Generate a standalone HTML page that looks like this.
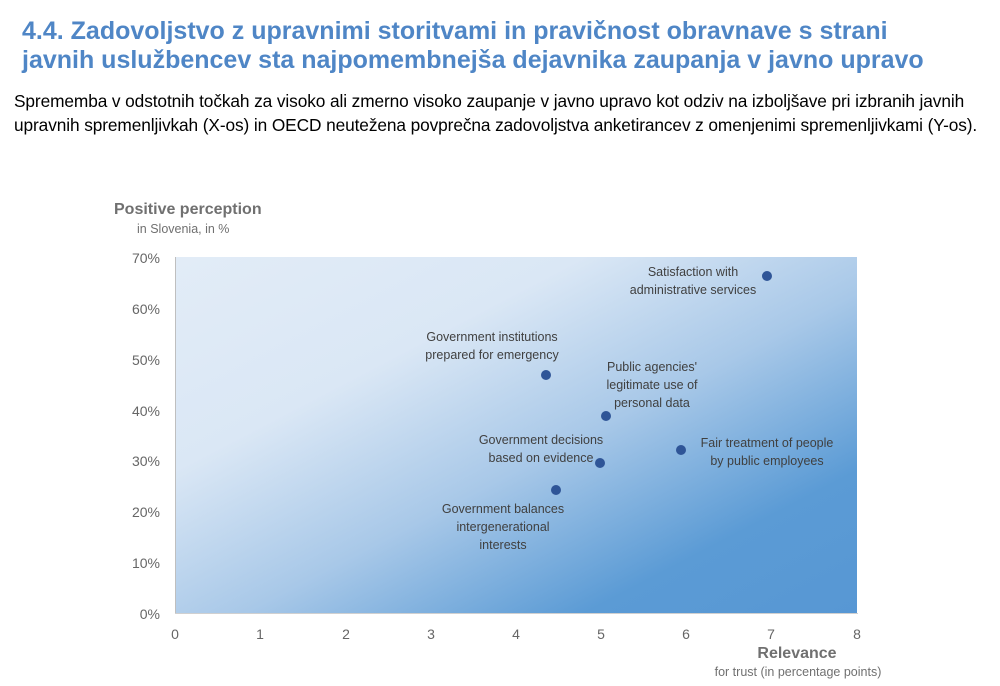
<!DOCTYPE html>
<html><head><meta charset="utf-8"><style>
body{margin:0;width:1000px;height:686px;background:#fff;font-family:"Liberation Sans",sans-serif;position:relative;overflow:hidden}
.t{position:absolute;left:22px;top:17px;color:#4f86c6;font-weight:bold;font-size:25px;line-height:29px;white-space:nowrap}
.s{position:absolute;left:14px;top:89px;color:#000;font-size:17.3px;line-height:24px;white-space:nowrap;letter-spacing:-0.1px}
</style></head><body>
<div class="t">4.4. Zadovoljstvo z upravnimi storitvami in pravičnost obravnave s strani<br>javnih uslužbencev sta najpomembnejša dejavnika zaupanja v javno upravo</div>
<div class="s">Sprememba v odstotnih točkah za visoko ali zmerno visoko zaupanje v javno upravo kot odziv na izboljšave pri izbranih javnih<br>upravnih spremenljivkah (X-os) in OECD neutežena povprečna zadovoljstva anketirancev z omenjenimi spremenljivkami (Y-os).</div>
<svg width="1000" height="686" style="position:absolute;left:0;top:0" font-family="Liberation Sans, sans-serif">
<defs><linearGradient id="g" x1="0" y1="0" x2="1" y2="1">
<stop offset="0" stop-color="#e2ecf7"/><stop offset="0.3" stop-color="#dae7f5"/><stop offset="0.55" stop-color="#a8c8e8"/><stop offset="0.8" stop-color="#5b9bd5"/><stop offset="1" stop-color="#5797d4"/></linearGradient></defs>
<rect x="175" y="257" width="682" height="356" fill="url(#g)"/>
<line x1="175.5" y1="257" x2="175.5" y2="614" stroke="#bfbfbf"/>
<line x1="175" y1="613.5" x2="858" y2="613.5" stroke="#d0d0d0"/>
<text x="114" y="214" font-size="16" font-weight="bold" fill="#707070">Positive perception</text>
<text x="137" y="233" font-size="12.5" fill="#707070">in Slovenia, in %</text>
<g font-size="14" fill="#666" text-anchor="end">
<text x="160" y="263">70%</text><text x="160" y="314">60%</text><text x="160" y="365">50%</text><text x="160" y="416">40%</text><text x="160" y="466">30%</text><text x="160" y="517">20%</text><text x="160" y="568">10%</text><text x="160" y="619">0%</text></g>
<g font-size="14" fill="#666" text-anchor="middle">
<text x="175" y="639">0</text><text x="260" y="639">1</text><text x="346" y="639">2</text><text x="431" y="639">3</text><text x="516" y="639">4</text><text x="601" y="639">5</text><text x="686" y="639">6</text><text x="771" y="639">7</text><text x="857" y="639">8</text></g>
<text x="797" y="658" font-size="16" font-weight="bold" fill="#707070" text-anchor="middle">Relevance</text>
<text x="798" y="676" font-size="12.5" fill="#707070" text-anchor="middle">for trust (in percentage points)</text>
<g fill="#2f5597"><circle cx="767" cy="276" r="5"/><circle cx="546" cy="375" r="5"/><circle cx="606" cy="416" r="5"/><circle cx="600" cy="463" r="5"/><circle cx="556" cy="490" r="5"/><circle cx="681" cy="450" r="5"/></g>
<g font-size="12.5" fill="#404040" text-anchor="middle">
<text x="693" y="276">Satisfaction with</text><text x="693" y="294">administrative services</text>
<text x="492" y="341">Government institutions</text><text x="492" y="359">prepared for emergency</text>
<text x="652" y="371">Public agencies'</text><text x="652" y="389">legitimate use of</text><text x="652" y="407">personal data</text>
<text x="541" y="444">Government decisions</text><text x="541" y="462">based on evidence</text>
<text x="767" y="447">Fair treatment of people</text><text x="767" y="465">by public employees</text>
<text x="503" y="513">Government balances</text><text x="503" y="531">intergenerational</text><text x="503" y="549">interests</text></g>
</svg>
</body></html>
